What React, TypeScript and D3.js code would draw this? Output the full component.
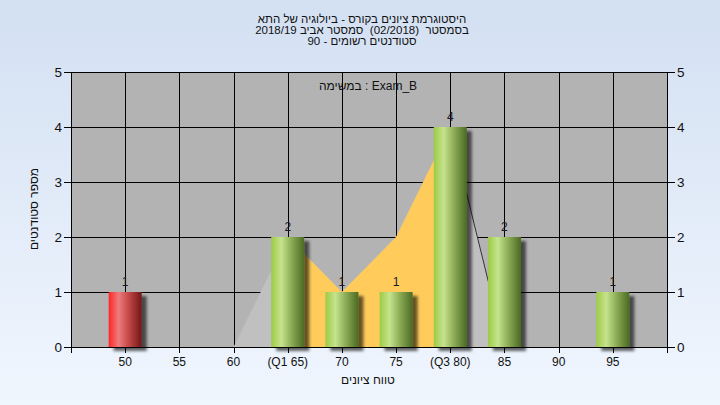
import React from 'react';
import * as d3 from 'd3';

const grades = [50, 55, 60, 65, 70, 75, 80, 85, 90, 95];
const tickLabels = ['50', '55', '60', '(Q1 65)', '70', '75', '(Q3 80)', '85', '90', '95'];
const counts = [1, 0, 0, 2, 1, 1, 4, 2, 0, 1];
const areaValues = [0, 0, 0, 2, 1, 2, 4, 0, 0, 0];
const q1 = 65;
const q3 = 80;
const passGrade = 55;
const yTicks = [0, 1, 2, 3, 4, 5];
const titleLines = [
  'היסטוגרמת ציונים בקורס - ביולוגיה של התא',
  'בסמסטר  (02/2018)  סמסטר אביב 2018/19',
  'סטודנטים רשומים - 90',
];
const innerLabel = 'במשימה : Exam_B';
const xTitle = 'טווח ציונים';
const yTitle = 'מספר סטודנטים';

const W = 720;
const H = 405;
const left = 71;
const right = 667;
const top = 72;
const bottom = 347;
const FONT = '"Liberation Sans", Arial, sans-serif';

export default function App() {
  const x = d3.scaleLinear().domain([45, 100]).range([left, right]);
  const y = d3.scaleLinear().domain([0, 5]).range([bottom, top]);
  const barW = 33;

  const pts = grades.map((g, i) => ({ g, v: areaValues[i] }));
  const area = d3
    .area<{ g: number; v: number }>()
    .x((d) => x(d.g))
    .y0(y(0))
    .y1((d) => y(d.v));
  const line = d3
    .line<{ g: number; v: number }>()
    .x((d) => x(d.g))
    .y((d) => y(d.v));
  const grayPath = area(pts) || '';
  const yellowPath = area(pts.filter((d) => d.g >= q1 && d.g <= q3)) || '';
  const darkPath = line(pts.filter((d) => d.g >= q3 && d.g <= 85)) || '';

  const c = (v: number) => Math.round(v) + 0.5;

  return (
    <svg
      width={W}
      height={H}
      style={{ position: 'fixed', left: 0, top: 0 }}
      fontFamily={FONT}
    >
      <defs>
        <linearGradient id="bg" x1="0" y1="0" x2="0" y2="1">
          <stop offset="0" stopColor="#d3e0f2" />
          <stop offset="1" stopColor="#f0f6fe" />
        </linearGradient>
        <linearGradient id="green" x1="0" y1="0" x2="1" y2="0">
          <stop offset="0" stopColor="#9ccb44" />
          <stop offset="0.3" stopColor="#c6e38d" />
          <stop offset="0.6" stopColor="#8fae58" />
          <stop offset="1" stopColor="#4a6a22" />
        </linearGradient>
        <linearGradient id="red" x1="0" y1="0" x2="1" y2="0">
          <stop offset="0" stopColor="#ff2424" />
          <stop offset="0.3" stopColor="#ef7c7c" />
          <stop offset="0.6" stopColor="#c44848" />
          <stop offset="1" stopColor="#731717" />
        </linearGradient>
        <filter id="shadow" x="-20%" y="-10%" width="150%" height="130%">
          <feDropShadow dx="5" dy="4" stdDeviation="1.6" floodColor="#000" floodOpacity="0.6" />
        </filter>
        <clipPath id="plot">
          <rect x={left} y={top} width={right - left} height={bottom - top} />
        </clipPath>
      </defs>

      <rect x={0} y={0} width={W} height={H} fill="url(#bg)" />

      {/* Titles */}
      {titleLines.map((t, i) => (
        <text
          key={i}
          x={362}
          y={23 + i * 11}
          textAnchor="middle"
          fontSize={11.5}
          fill="#111"
          style={{ whiteSpace: 'pre' }}
        >
          {t}
        </text>
      ))}

      {/* plot background */}
      <rect x={left} y={top} width={right - left} height={bottom - top} fill="#b3b3b3" />

      {/* gridlines */}
      {yTicks.map((t) => (
        <line key={'h' + t} x1={left} x2={right} y1={c(y(t))} y2={c(y(t))} stroke="#000" strokeWidth={1} />
      ))}
      {grades.map((g) => (
        <line key={'v' + g} x1={c(x(g))} x2={c(x(g))} y1={top} y2={bottom} stroke="#000" strokeWidth={1} />
      ))}

      {/* areas */}
      <g clipPath="url(#plot)">
        <path d={grayPath} fill="#c0c0c0" />
        <path d={yellowPath} fill="#ffcc5c" />
        <path d={darkPath} fill="none" stroke="#333" strokeWidth={1} />
      </g>

      <text x={368} y={90} textAnchor="middle" fontSize={12} fill="#111">
        {innerLabel}
      </text>

      {/* bars */}
      {grades.map((g, i) =>
        counts[i] > 0 ? (
          <rect
            key={'b' + g}
            x={x(g) - barW / 2}
            y={y(counts[i])}
            width={barW}
            height={y(0) - y(counts[i])}
            fill={g < passGrade ? 'url(#red)' : 'url(#green)'}
            filter="url(#shadow)"
          />
        ) : null
      )}

      {/* value labels */}
      {grades.map((g, i) =>
        counts[i] > 0 ? (
          <text key={'l' + g} x={x(g)} y={y(counts[i]) - 6} textAnchor="middle" fontSize={12} fill="#1a1a2a">
            {counts[i]}
          </text>
        ) : null
      )}

      {/* axes */}
      <line x1={c(left)} x2={c(left)} y1={top} y2={bottom + 1} stroke="#000" />
      <line x1={c(right)} x2={c(right)} y1={top} y2={bottom + 1} stroke="#000" />
      <line x1={left} x2={right + 1} y1={c(bottom)} y2={c(bottom)} stroke="#000" />
      {yTicks.map((t) => (
        <g key={'yt' + t}>
          <line x1={left - 7} x2={left} y1={c(y(t))} y2={c(y(t))} stroke="#000" />
          <line x1={right} x2={right + 8} y1={c(y(t))} y2={c(y(t))} stroke="#000" />
          <text x={left - 9} y={y(t) + 5} textAnchor="end" fontSize={13.5} fill="#111">
            {t}
          </text>
          <text x={right + 10} y={y(t) + 5} textAnchor="start" fontSize={13.5} fill="#111">
            {t}
          </text>
        </g>
      ))}
      {[45, ...grades, 100].map((g) => (
        <line key={'xt' + g} x1={c(x(g))} x2={c(x(g))} y1={bottom} y2={bottom + 6} stroke="#000" />
      ))}
      {grades.map((g, i) => (
        <text key={'xl' + g} x={x(g)} y={366} textAnchor="middle" fontSize={12} fill="#111">
          {tickLabels[i]}
        </text>
      ))}

      <text x={368} y={384} textAnchor="middle" fontSize={12} fill="#111">
        {xTitle}
      </text>
      <text
        transform={`translate(38, 209) rotate(-90)`}
        textAnchor="middle"
        fontSize={12}
        fill="#111"
      >
        {yTitle}
      </text>
    </svg>
  );
}
